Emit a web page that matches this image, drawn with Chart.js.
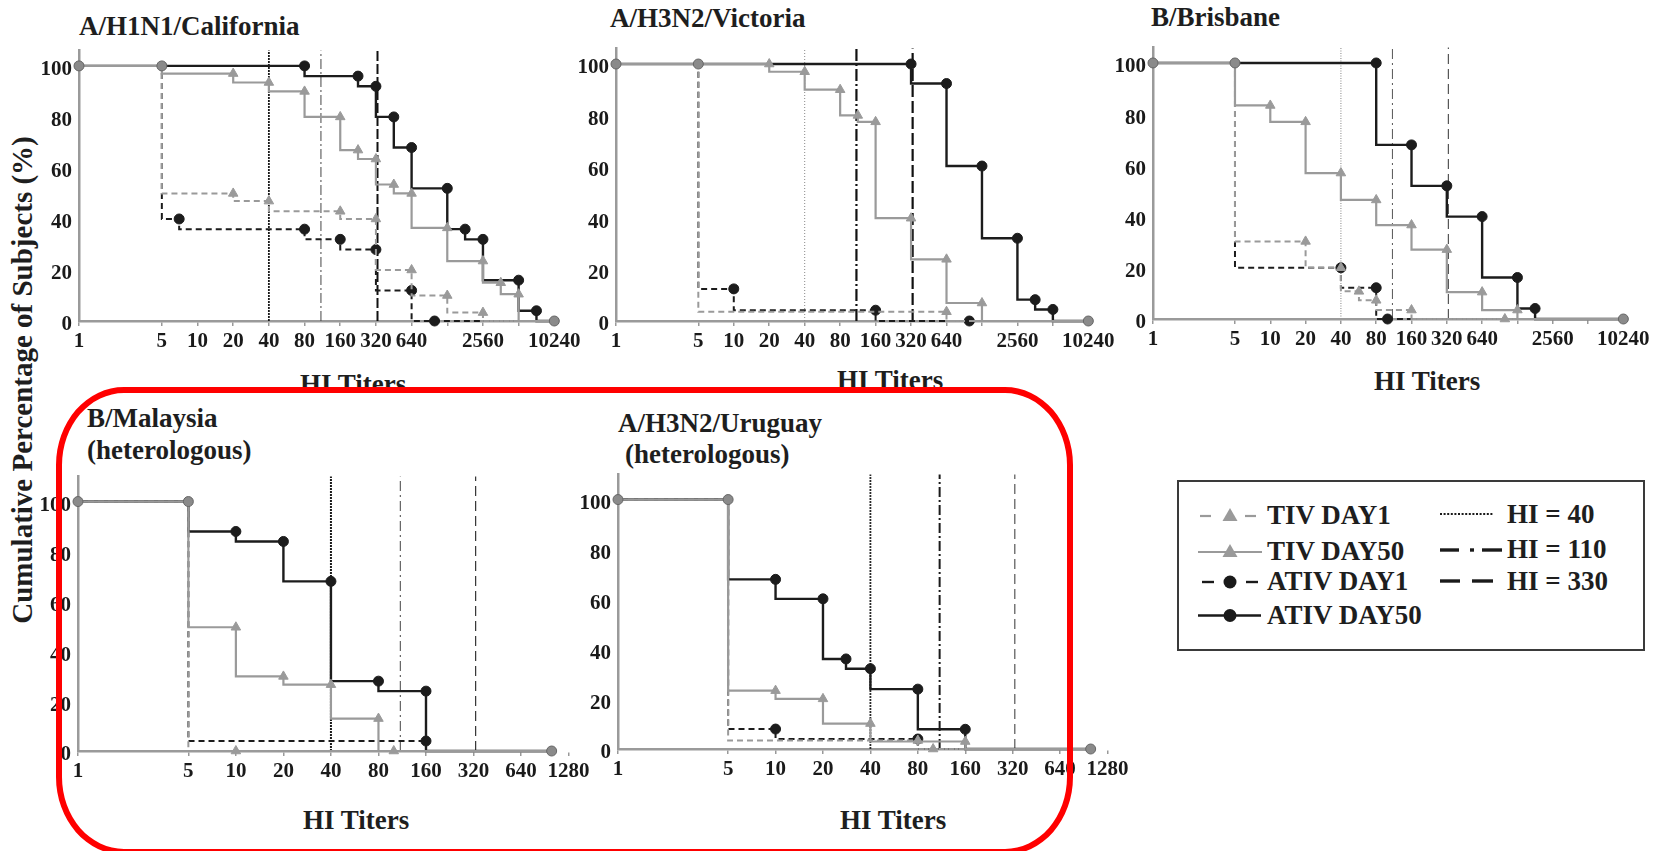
<!DOCTYPE html>
<html>
<head>
<meta charset="utf-8">
<script src="https://cdn.jsdelivr.net/npm/chart.js@4.4.1/dist/chart.umd.min.js"></script>
<style>
html,body{margin:0;padding:0;background:#fff;overflow:hidden;}
#wrap{position:relative;width:1669px;height:851px;overflow:hidden;background:#fff;}
#wrap canvas{position:absolute;}
.txt{position:absolute;font-family:'Liberation Serif','Times New Roman',serif;font-weight:bold;color:#1e1e1e;line-height:1;white-space:nowrap;}
.t27{font-size:27px;}
#ylab{font-size:29px;left:22px;top:380px;transform:translate(-50%,-50%) rotate(-90deg);}
#legend{position:absolute;left:1177px;top:480px;width:468px;height:171px;border:2px solid #3a3a3a;box-sizing:border-box;}
#legsvg{position:absolute;left:1177px;top:480px;}
#redbox{position:absolute;left:56px;top:387px;width:1017px;height:468px;border:6px solid #ff0000;border-radius:68px / 78px;box-sizing:border-box;z-index:10;}
</style>
</head>
<body>
<div id="wrap">
  <div class="txt t27" style="left:79px;top:13px;">A/H1N1/California</div>
  <div class="txt t27" style="left:610px;top:5px;">A/H3N2/Victoria</div>
  <div class="txt t27" style="left:1151px;top:4px;">B/Brisbane</div>
  <div class="txt t27" style="left:87px;top:405px;">B/Malaysia</div>
  <div class="txt t27" style="left:87px;top:437px;">(heterologous)</div>
  <div class="txt t27" style="left:618px;top:410px;">A/H3N2/Uruguay</div>
  <div class="txt t27" style="left:625px;top:441px;">(heterologous)</div>
  <div class="txt t27" style="left:300px;top:371px;">HI Titers</div>
  <div class="txt t27" style="left:837px;top:367px;">HI Titers</div>
  <div class="txt t27" style="left:1374px;top:368px;">HI Titers</div>
  <div class="txt t27" style="left:303px;top:807px;">HI Titers</div>
  <div class="txt t27" style="left:840px;top:807px;">HI Titers</div>
  <div class="txt" id="ylab">Cumulative Percentage of Subjects (%)</div>

  <div id="legend"></div>
  <svg id="legsvg" width="468" height="171" xmlns="http://www.w3.org/2000/svg">
    <g stroke="#9a9a9a" stroke-width="2.2" fill="#9a9a9a">
      <line x1="23" y1="36" x2="34" y2="36"/>
      <line x1="68" y1="36" x2="79" y2="36"/>
      <polygon points="53,28 45.5,41 60.5,41" stroke="none"/>
      <line x1="21" y1="72" x2="85" y2="72"/>
      <polygon points="53,64 45.5,77 60.5,77" stroke="none"/>
    </g>
    <g stroke="#1a1a1a" stroke-width="2.4" fill="#1a1a1a">
      <line x1="25" y1="102" x2="37" y2="102"/>
      <line x1="69" y1="102" x2="81" y2="102"/>
      <circle cx="53" cy="102" r="6.5" stroke="none"/>
      <line x1="21" y1="135.5" x2="84" y2="135.5"/>
      <circle cx="53" cy="135.5" r="6.5" stroke="none"/>
    </g>
    <g stroke="#1a1a1a" fill="none">
      <line x1="263" y1="34" x2="316" y2="34" stroke-width="2.2" stroke-dasharray="2 1.6"/>
      <line x1="263" y1="70" x2="282" y2="70" stroke-width="3.4"/>
      <line x1="293" y1="70" x2="297" y2="70" stroke-width="3.4"/>
      <line x1="305" y1="70" x2="325" y2="70" stroke-width="3.4"/>
      <line x1="263" y1="101" x2="283" y2="101" stroke-width="3.4"/>
      <line x1="295" y1="101" x2="316" y2="101" stroke-width="3.4"/>
    </g>
  </svg>
  <div class="txt t27" style="left:1267px;top:502px;">TIV DAY1</div>
  <div class="txt t27" style="left:1267px;top:538px;">TIV DAY50</div>
  <div class="txt t27" style="left:1267px;top:568px;">ATIV DAY1</div>
  <div class="txt t27" style="left:1267px;top:602px;">ATIV DAY50</div>
  <div class="txt t27" style="left:1507px;top:501px;">HI = 40</div>
  <div class="txt t27" style="left:1507px;top:536px;">HI = 110</div>
  <div class="txt t27" style="left:1507px;top:568px;">HI = 330</div>

  <div id="redbox"></div>
</div>

<script>
// ---------- axis ticks ----------
const X_TICKS_WIDE   = [1, 5, 10, 20, 40, 80, 160, 320, 640, 1280, 2560, 5120, 10240];
const X_LABELS_WIDE  = ['1','5','10','20','40','80','160','320','640','','2560','','10240'];
const X_TICKS_NARROW  = [1, 5, 10, 20, 40, 80, 160, 320, 640, 1280];
const X_LABELS_NARROW = ['1','5','10','20','40','80','160','320','640','1280'];
const Y_TICKS = [0, 20, 40, 60, 80, 100];

// reference titer thresholds
const HI_THRESHOLDS = [40, 110, 330];

// all curves start at 100% for titers 1 and 5
const START_X = [1, 5];
const START_Y = [100, 100];

// ---------- A/H1N1/California ----------
const CAL_END_X = 10240;
const CAL_TIV_D1_X  = [20, 40, 160, 320, 640, 1280, 2560];
const CAL_TIV_D1_Y  = [50, 47, 43, 40, 20, 10, 3.3];
const CAL_TIV_D50_X = [20, 40, 80, 160, 226, 320, 453, 640, 1280, 2560, 3620, 5120];
const CAL_TIV_D50_Y = [97, 93.5, 90, 80, 67, 63.5, 53.5, 50, 36.5, 23.5, 15, 10.5];
const CAL_ATIV_D1_X  = [7, 80, 160, 320, 640, 1000];
const CAL_ATIV_D1_Y  = [40, 36, 32, 28, 12, 0];
const CAL_ATIV_D50_X = [80, 226, 320, 453, 640, 1280, 1810, 2560, 5120, 7240];
const CAL_ATIV_D50_Y = [100, 96, 92, 80, 68, 52, 36, 32, 16, 4];

// ---------- A/H3N2/Victoria ----------
const VIC_END_X = 10240;
const VIC_TIV_D1_X  = [640];
const VIC_TIV_D1_Y  = [3.6];
const VIC_TIV_D50_X = [20, 40, 80, 113, 160, 320, 640, 1280];
const VIC_TIV_D50_Y = [100, 97, 90, 80, 77.5, 40, 24, 7];
const VIC_ATIV_D1_X  = [10, 160, 1000];
const VIC_ATIV_D1_Y  = [12.5, 4.2, 0];
const VIC_ATIV_D50_X = [320, 640, 1280, 2560, 3620, 5120];
const VIC_ATIV_D50_Y = [100, 92.4, 60.3, 32.2, 8.3, 4.5];

// ---------- B/Brisbane ----------
const BRI_END_X = 10240;
const BRI_TIV_D1_X  = [20, 40, 57, 80, 160, 1000];
const BRI_TIV_D1_Y  = [30.3, 20, 10.8, 7.3, 3.5, 0];
const BRI_TIV_D50_X = [10, 20, 40, 80, 160, 320, 640, 1280];
const BRI_TIV_D50_Y = [83.4, 77, 57, 46.5, 36.7, 27.1, 10.5, 3.5];
const BRI_ATIV_D1_X  = [40, 80, 100];
const BRI_ATIV_D1_Y  = [20, 12.2, 0];
const BRI_ATIV_D50_X = [80, 160, 320, 640, 1280, 1810];
const BRI_ATIV_D50_Y = [100, 68, 52, 40, 16.2, 4.1];

// ---------- B/Malaysia (heterologous) ----------
const MAL_END_X = 1000;
const MAL_TIV_D1_X  = [10];
const MAL_TIV_D1_Y  = [0];
const MAL_TIV_D50_X = [10, 20, 40, 80, 100];
const MAL_TIV_D50_Y = [49.6, 29.9, 26.6, 13, 0];
const MAL_ATIV_D1_X  = [160];
const MAL_ATIV_D1_Y  = [4];
const MAL_ATIV_D50_X = [10, 20, 40, 80, 160];
const MAL_ATIV_D50_Y = [88, 84, 68, 28, 24];

// ---------- A/H3N2/Uruguay (heterologous) ----------
const URU_END_X = 1000;
const URU_TIV_D1_X  = [80, 100];
const URU_TIV_D1_Y  = [3.4, 0];
const URU_TIV_D50_X = [10, 20, 40, 160];
const URU_TIV_D50_Y = [23.4, 20.1, 10.2, 3];
const URU_ATIV_D1_X  = [10, 80];
const URU_ATIV_D1_Y  = [8, 4];
const URU_ATIV_D50_X = [10, 20, 28, 40, 80, 160];
const URU_ATIV_D50_Y = [68, 60.2, 36.1, 32.2, 24, 7.9];

// ---------- styles / layout ----------
const GRAY = '#9a9a9a', BLACK = '#1c1c1c';
const STYLE = {
  tivD1:   { color: GRAY,  width: 2,   dash: [6, 4], marker: 'triangle', r: 5.5 },
  tivD50:  { color: GRAY,  width: 2.2, dash: [],     marker: 'triangle', r: 5.5 },
  ativD1:  { color: BLACK, width: 2,   dash: [6, 4], marker: 'circle',   r: 5 },
  ativD50: { color: BLACK, width: 2.4, dash: [],     marker: 'circle',   r: 5 }
};
const DOT = [2, 1], DASHDOT = [10, 3, 2, 3], DASH = [10, 4];
const TICK_FONT = { family: "'Liberation Serif', 'Times New Roman', serif", size: 21, weight: 'bold' };
const Y_AXIS_W = 60, PAD_TOP = 15, X_AXIS_H = 45;

const PANELS = [
  { area: [79, 46, 479, 275], xmax: 11000, ymax: 106, padR: 40, endX: CAL_END_X,
    ticks: X_TICKS_WIDE, labels: X_LABELS_WIDE,
    s: { tivD1: [CAL_TIV_D1_X, CAL_TIV_D1_Y], tivD50: [CAL_TIV_D50_X, CAL_TIV_D50_Y],
         ativD1: [CAL_ATIV_D1_X, CAL_ATIV_D1_Y], ativD50: [CAL_ATIV_D50_X, CAL_ATIV_D50_Y] },
    ref: [ {c:'#1a1a1a', w:1.8, d:DOT}, {c:'#444', w:1, d:DASHDOT}, {c:'#111', w:2, d:[10,3]} ] },
  { area: [616, 44, 476, 277], xmax: 11000, ymax: 106, padR: 40, endX: VIC_END_X,
    ticks: X_TICKS_WIDE, labels: X_LABELS_WIDE,
    s: { tivD1: [VIC_TIV_D1_X, VIC_TIV_D1_Y], tivD50: [VIC_TIV_D50_X, VIC_TIV_D50_Y],
         ativD1: [VIC_ATIV_D1_X, VIC_ATIV_D1_Y], ativD50: [VIC_ATIV_D50_X, VIC_ATIV_D50_Y] },
    ref: [ {c:'#888', w:1, d:[1,2]}, {c:'#111', w:2.2, d:[12,3,2,3]}, {c:'#111', w:2.2, d:[12,4]} ] },
  { area: [1153, 43, 474, 276], xmax: 11000, ymax: 106, padR: 40, endX: BRI_END_X,
    ticks: X_TICKS_WIDE, labels: X_LABELS_WIDE,
    s: { tivD1: [BRI_TIV_D1_X, BRI_TIV_D1_Y], tivD50: [BRI_TIV_D50_X, BRI_TIV_D50_Y],
         ativD1: [BRI_ATIV_D1_X, BRI_ATIV_D1_Y], ativD50: [BRI_ATIV_D50_X, BRI_ATIV_D50_Y] },
    ref: [ {c:'#999', w:1.2, d:[1,1.5]}, {c:'#555', w:1, d:[10,4,2,4]}, {c:'#555', w:1.2, d:[10,5]} ] },
  { area: [78, 472, 477, 279], xmax: 1050, ymax: 110, padR: 45, endX: MAL_END_X,
    ticks: X_TICKS_NARROW, labels: X_LABELS_NARROW,
    s: { tivD1: [MAL_TIV_D1_X, MAL_TIV_D1_Y], tivD50: [MAL_TIV_D50_X, MAL_TIV_D50_Y],
         ativD1: [MAL_ATIV_D1_X, MAL_ATIV_D1_Y], ativD50: [MAL_ATIV_D50_X, MAL_ATIV_D50_Y] },
    ref: [ {c:'#1a1a1a', w:2, d:DOT}, {c:'#444', w:1, d:[10,4,2,4]}, {c:'#333', w:1.2, d:[10,5]} ] },
  { area: [618, 470, 476, 279], xmax: 1050, ymax: 110, padR: 45, endX: URU_END_X,
    ticks: X_TICKS_NARROW, labels: X_LABELS_NARROW,
    s: { tivD1: [URU_TIV_D1_X, URU_TIV_D1_Y], tivD50: [URU_TIV_D50_X, URU_TIV_D50_Y],
         ativD1: [URU_ATIV_D1_X, URU_ATIV_D1_Y], ativD50: [URU_ATIV_D50_X, URU_ATIV_D50_Y] },
    ref: [ {c:'#2a2a2a', w:1.8, d:DOT}, {c:'#1a1a1a', w:2, d:[10,3,2,3]}, {c:'#555', w:1.2, d:[10,5]} ] }
];

function seriesDataset(xs, ys, endX, st) {
  const pts = START_X.map((x, i) => ({ x: x, y: START_Y[i] }))
    .concat(xs.map((x, i) => ({ x: x, y: ys[i] })))
    .concat([{ x: endX, y: 0 }]);
  const n = pts.length;
  return {
    data: pts, stepped: 'after', borderColor: st.color, borderWidth: st.width, borderDash: st.dash,
    pointStyle: st.marker,
    pointRadius: (ctx) => (ctx.dataIndex < 2 || ctx.dataIndex === n - 1) ? 0 : st.r,
    pointBackgroundColor: st.color, pointBorderColor: st.color, pointBorderWidth: 1,
    fill: false, tension: 0, clip: false
  };
}

const wrap = document.getElementById('wrap');
const redbox = document.getElementById('redbox');

PANELS.forEach((p) => {
  const [al, at, aw, ah] = p.area;
  const W = Y_AXIS_W + aw + p.padR, H = PAD_TOP + ah + X_AXIS_H;
  const cv = document.createElement('canvas');
  cv.width = W; cv.height = H;
  cv.style.left = (al - Y_AXIS_W) + 'px';
  cv.style.top = (at - PAD_TOP) + 'px';
  cv.style.width = W + 'px'; cv.style.height = H + 'px';
  wrap.insertBefore(cv, redbox);

  const common = {
    data: START_X.map((x, i) => ({ x: x, y: START_Y[i] })).concat([{ x: p.endX, y: 0 }]),
    showLine: false, pointStyle: 'circle', pointRadius: 5,
    pointBackgroundColor: '#8a8a8a', pointBorderColor: '#666', pointBorderWidth: 1, clip: false
  };
  const refs = HI_THRESHOLDS.map((v, i) => ({
    data: [{ x: v, y: 0 }, { x: v, y: p.ymax }],
    borderColor: p.ref[i].c, borderWidth: p.ref[i].w, borderDash: p.ref[i].d,
    pointRadius: 0, fill: false, clip: false
  }));
  const datasets = [
    common,
    seriesDataset(p.s.tivD50[0], p.s.tivD50[1], p.endX, STYLE.tivD50),
    seriesDataset(p.s.tivD1[0], p.s.tivD1[1], p.endX, STYLE.tivD1),
    seriesDataset(p.s.ativD50[0], p.s.ativD50[1], p.endX, STYLE.ativD50),
    seriesDataset(p.s.ativD1[0], p.s.ativD1[1], p.endX, STYLE.ativD1)
  ].concat(refs);

  new Chart(cv.getContext('2d'), {
    type: 'line',
    data: { datasets: datasets },
    options: {
      responsive: false, maintainAspectRatio: false, animation: false, events: [],
      devicePixelRatio: 1,
      layout: { padding: { top: PAD_TOP, right: p.padR, left: 0, bottom: 0 } },
      plugins: { legend: { display: false }, tooltip: { enabled: false }, title: { display: false } },
      scales: {
        x: {
          type: 'logarithmic', min: 1, max: p.xmax, bounds: 'data',
          afterBuildTicks: (s) => { s.ticks = p.ticks.map(v => ({ value: v })); },
          afterFit: (s) => { s.height = X_AXIS_H; },
          ticks: { autoSkip: false, maxRotation: 0, minRotation: 0, padding: 3, color: '#1a1a1a',
                   font: TICK_FONT, callback: (v, i) => p.labels[i] },
          grid: { display: true, drawOnChartArea: false, drawTicks: true, tickLength: 5, color: '#999', lineWidth: 1.5 },
          border: { display: true, color: '#9a9a9a', width: 2.5 }
        },
        y: {
          type: 'linear', min: 0, max: p.ymax,
          afterBuildTicks: (s) => { s.ticks = Y_TICKS.map(v => ({ value: v })); },
          afterFit: (s) => { s.width = Y_AXIS_W; },
          ticks: { padding: 7, labelOffset: 4, color: '#1a1a1a', font: TICK_FONT, callback: (v) => String(v) },
          grid: { display: false, drawTicks: false },
          border: { display: true, color: '#9a9a9a', width: 2.5 }
        }
      }
    }
  });
});
</script>
</body>
</html>
